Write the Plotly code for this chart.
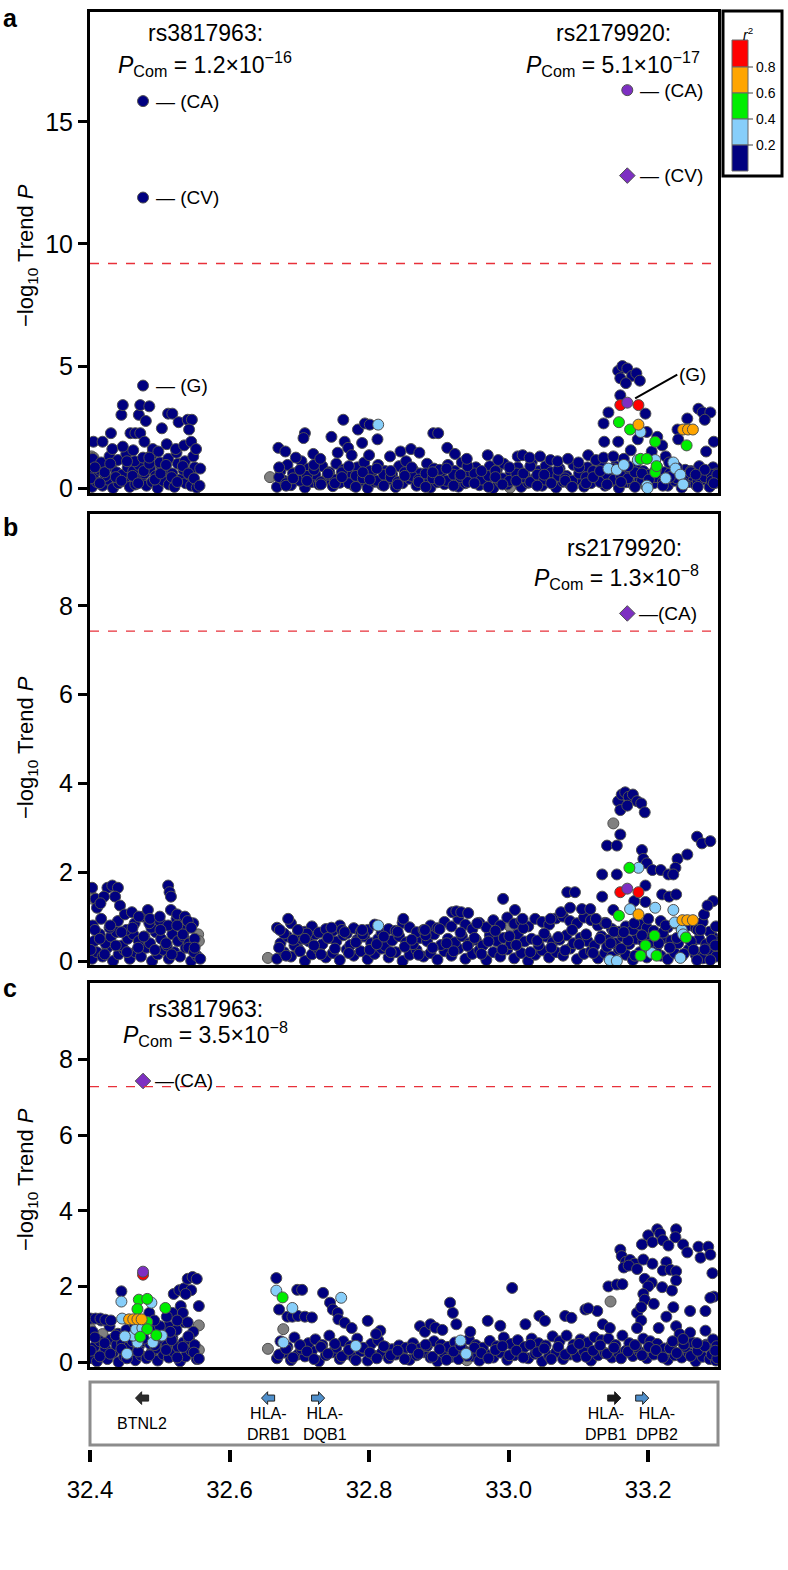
import plotly.graph_objects as go

W, H = 788, 1570
FONT = "Liberation Sans, Arial, sans-serif"

# ---------------- data ----------------
X_RANGE = [32.4, 33.3]
X_TICKS = [32.4, 32.6, 32.8, 33.0, 33.2]
X_TICKTEXT = ["32.4", "32.6", "32.8", "33.0", "33.2"]

# SNP positions (Mb) shared by the three panels
SNP_X_L1 = [32.403, 32.410, 32.418, 32.425, 32.433, 32.441, 32.449, 32.457, 32.465, 32.473,
            32.481, 32.489, 32.497, 32.505, 32.513, 32.521, 32.529, 32.537, 32.545, 32.553]
SNP_X_L2 = [32.406, 32.414, 32.422, 32.430, 32.438, 32.446, 32.454, 32.462, 32.470, 32.478,
            32.486, 32.494, 32.502, 32.510, 32.518, 32.526, 32.534, 32.542, 32.550]
SNP_X_L3 = [32.404, 32.416, 32.428, 32.440, 32.452, 32.464, 32.476, 32.488, 32.500, 32.512,
            32.524, 32.536, 32.548]
SNP_X_L4 = [32.401, 32.407, 32.414, 32.421, 32.429, 32.437, 32.445, 32.453, 32.461, 32.469,
            32.477, 32.485, 32.493, 32.501, 32.509, 32.517, 32.525, 32.533, 32.541, 32.549]
SNP_X_R1 = [32.668, 32.678, 32.688, 32.698, 32.708, 32.718, 32.728, 32.738,
            32.748, 32.758, 32.768, 32.778, 32.788, 32.798, 32.808, 32.818,
            32.828, 32.838, 32.848, 32.858, 32.868, 32.878, 32.888, 32.898,
            32.908, 32.918, 32.928, 32.938, 32.948, 32.958, 32.968, 32.978,
            32.988, 32.998, 33.008, 33.018, 33.028, 33.038, 33.048, 33.058,
            33.068, 33.078, 33.088, 33.098, 33.108, 33.118, 33.128, 33.138,
            33.148, 33.158, 33.168, 33.178, 33.188, 33.198, 33.208, 33.218,
            33.228, 33.238, 33.248, 33.258, 33.268, 33.278, 33.288, 33.297]
SNP_X_R2 = [32.673, 32.683, 32.693, 32.703, 32.713, 32.723, 32.733, 32.743,
            32.753, 32.763, 32.773, 32.783, 32.793, 32.803, 32.813, 32.823,
            32.833, 32.843, 32.853, 32.863, 32.873, 32.883, 32.893, 32.903,
            32.913, 32.923, 32.933, 32.943, 32.953, 32.963, 32.973, 32.983,
            32.993, 33.003, 33.013, 33.023, 33.033, 33.043, 33.053, 33.063,
            33.073, 33.083, 33.093, 33.103, 33.113, 33.123, 33.133, 33.143,
            33.153, 33.163, 33.173, 33.183, 33.193, 33.203, 33.213, 33.223,
            33.233, 33.243, 33.253, 33.263, 33.273, 33.283, 33.293, 33.298]
SNP_X_R3 = [32.671, 32.681, 32.691, 32.701, 32.711, 32.721, 32.731, 32.741,
            32.751, 32.761, 32.771, 32.781, 32.791, 32.801, 32.811, 32.821,
            32.831, 32.841, 32.851, 32.861, 32.871, 32.881, 32.891, 32.901,
            32.911, 32.921, 32.931, 32.941, 32.951, 32.961, 32.971, 32.981,
            32.991, 33.001, 33.011, 33.021, 33.031, 33.041, 33.051, 33.061,
            33.071, 33.081, 33.091, 33.101, 33.111, 33.121, 33.131, 33.141,
            33.151, 33.161, 33.171, 33.181, 33.191, 33.201, 33.211, 33.221,
            33.231, 33.241, 33.251, 33.261, 33.271, 33.281, 33.291, 33.299]

# ---- panel a : -log10 trend P ----
A_L1_Y = [0.05, 0.25, 0.10, 0.35, 0.00, 0.20, 0.30, 0.05, 0.15, 0.40,
          0.10, 0.25, 0.00, 0.30, 0.15, 0.05, 0.35, 0.20, 0.10, 0.02]
A_L2_Y = [0.60, 0.75, 0.50, 0.90, 0.65, 0.55, 0.85, 0.70, 0.95, 0.60,
          0.80, 0.50, 0.90, 0.70, 0.60, 1.00, 0.75, 0.55, 0.85]
A_L3_Y = [1.20, 1.05, 1.30, 1.15, 1.40, 1.10, 1.25, 1.35, 1.05, 1.20, 1.45, 1.10, 1.30]
A_L4_Y = [0.40, 0.85, 0.20, 0.65, 1.00, 0.45, 0.30, 1.10, 0.50, 0.20,
          0.70, 1.00, 0.35, 0.60, 0.95, 0.45, 0.25, 0.90, 0.60, 0.40]
A_R1_Y = [0.05, 0.30, 0.12, 0.40, 0.02, 0.25, 0.15, 0.35,
          0.08, 0.22, 0.42, 0.10, 0.30, 0.00, 0.26, 0.14,
          0.36, 0.04, 0.20, 0.38, 0.10, 0.30, 0.02, 0.24,
          0.16, 0.34, 0.06, 0.20, 0.40, 0.12, 0.28, 0.00,
          0.25, 0.15, 0.35, 0.05, 0.22, 0.40, 0.10, 0.30,
          0.02, 0.26, 0.15, 0.35, 0.06, 0.20, 0.42, 0.10,
          0.30, 0.00, 0.24, 0.15, 0.36, 0.05, 0.20, 0.40,
          0.10, 0.30, 0.02, 0.25, 0.14, 0.35, 0.05, 0.22]
A_R2_Y = [0.70, 0.95, 0.60, 1.10, 0.80, 0.55, 0.90, 0.65,
          1.00, 0.75, 0.50, 0.85, 1.05, 0.60, 0.95, 0.70,
          0.55, 0.90, 1.10, 0.75, 0.60, 1.00, 0.80, 0.50,
          0.95, 0.70, 1.05, 0.60, 0.85, 0.55, 0.90, 0.75,
          1.00, 0.65, 0.85, 0.55, 1.05, 0.70, 0.90, 0.60,
          0.80, 0.50, 0.95, 0.70, 0.85, 0.55, 1.00, 0.65,
          0.90, 0.75, 0.60, 0.80, 0.70, 0.55, 0.85, 0.65,
          0.95, 0.60, 0.75, 0.50, 0.90, 0.70, 0.85, 0.60]
A_R3_Y = [0.45, 0.20, 0.60, 0.30, 0.50, 0.75, 0.25, 0.55,
          0.35, 0.65, 0.20, 0.50, 0.40, 0.70, 0.30, 0.55,
          0.45, 0.25, 0.65, 0.50, 0.35, 0.60, 0.40, 0.75,
          0.30, 0.55, 0.45, 0.25, 0.60, 0.35, 0.50, 0.70,
          0.40, 0.30, 0.60, 0.45, 0.25, 0.55, 0.35, 0.65,
          0.50, 0.40, 0.30, 0.60, 0.45, 0.70, 0.25, 0.55,
          0.35, 0.50, 0.40, 0.65, 0.30, 0.55, 0.45, 0.25,
          0.60, 0.40, 0.50, 0.70, 0.30, 0.45, 0.55, 0.35]
A_R4_Y = [0.85, 0.10, 0.40, 0.75, 0.30, 0.95, 0.15, 0.60,
          0.20, 0.45, 0.90, 0.05, 0.65, 0.35, 0.80, 0.10,
          0.70, 0.15, 0.50, 0.85, 0.25, 0.05, 0.65, 0.30,
          0.80, 0.10, 0.55, 0.90, 0.20, 0.70, 0.05, 0.45,
          0.15, 0.85, 0.30, 0.60, 0.90, 0.10, 0.55, 0.20,
          0.75, 0.30, 0.05, 0.85, 0.20, 0.45, 0.70, 0.15,
          0.80, 0.25, 0.90, 0.05, 0.60, 0.35, 0.75, 0.10,
          0.45, 0.85, 0.20, 0.65, 0.05, 0.75, 0.30, 0.55]
A_NAVY_TOP = [(32.405, 1.9), (32.418, 1.9), (32.430, 2.25), (32.432, 1.6), (32.447, 1.7), (32.445, 3.0),
              (32.447, 3.4), (32.458, 2.25), (32.465, 2.25), (32.472, 2.25), (32.470, 3.0), (32.472, 3.4),
              (32.478, 1.9), (32.480, 2.75), (32.485, 3.35), (32.490, 1.6), (32.503, 2.45), (32.512, 3.05),
              (32.518, 3.05), (32.510, 1.8), (32.523, 1.6), (32.527, 2.7), (32.535, 1.75), (32.540, 2.8),
              (32.546, 2.8), (32.542, 2.4), (32.545, 1.9), (32.552, 1.6), (32.558, 0.8), (32.557, 0.1),
              (32.498, 1.5), (32.462, 1.55), (32.485, 1.25),
              (32.670, 1.65), (32.680, 1.50), (32.708, 2.25), (32.706, 2.05), (32.695, 1.25), (32.720, 1.40),
              (32.730, 1.20), (32.746, 2.10), (32.763, 2.80), (32.765, 1.90), (32.770, 1.65), (32.784, 2.40),
              (32.794, 2.65), (32.801, 2.60), (32.812, 2.00), (32.790, 1.85), (32.775, 1.35), (32.755, 1.45),
              (32.800, 1.35), (32.830, 1.30), (32.845, 1.50), (32.860, 1.60), (32.872, 1.45), (32.892, 2.25),
              (32.899, 2.25), (32.912, 1.65), (32.923, 1.40), (32.940, 1.20), (32.970, 1.35), (32.985, 1.15),
              (33.013, 1.30), (33.020, 1.35), (33.030, 1.25), (33.045, 1.30), (33.060, 1.15), (33.070, 1.10),
              (33.085, 1.20), (33.100, 1.05), (33.114, 1.35), (33.125, 1.15), (33.136, 2.65), (33.137, 1.90),
              (33.136, 1.25), (33.143, 3.10), (33.150, 1.30), (33.157, 1.90), (33.160, 3.80), (33.157, 4.80),
              (33.163, 5.00), (33.170, 4.90), (33.177, 4.60), (33.183, 4.70), (33.188, 4.40), (33.160, 4.50),
              (33.168, 4.30), (33.196, 3.05), (33.198, 2.30), (33.213, 2.10), (33.220, 1.75), (33.205, 1.50),
              (33.225, 1.30), (33.242, 2.40), (33.243, 2.00), (33.256, 2.85), (33.272, 3.25), (33.278, 3.10),
              (33.289, 3.10), (33.281, 2.80), (33.283, 1.50), (33.294, 1.90), (33.268, 0.55), (33.294, 0.20),
              (33.230, 1.05), (33.175, 1.55), (33.165, 1.20), (33.185, 2.00)]
A_GRAY = [(32.402, 1.30), (32.405, 1.25), (32.402, 0.50), (32.658, 0.45), (32.715, 0.35), (33.062, 0.40), (33.002, 0.02)]
A_LBLUE = [(32.813, 2.60), (33.143, 0.80), (33.155, 0.75), (33.189, 2.30), (33.210, 1.15), (33.198, 0.10),
           (33.199, 0.00), (33.236, 1.05), (33.239, 0.80), (33.246, 0.55), (33.250, 0.15), (33.185, 1.15),
           (33.225, 0.40), (33.165, 0.95)]
A_GREEN = [(33.158, 2.70), (33.174, 2.40), (33.210, 1.90), (33.189, 1.20), (33.198, 1.20), (33.210, 0.65),
           (33.212, 0.90), (33.255, 1.75)]
A_ORANGE = [(33.186, 2.60), (33.250, 2.40), (33.257, 2.40), (33.264, 2.40)]
A_RED = [(33.160, 3.40), (33.186, 3.40)]
# rs3817963 (navy) and rs2179920 (purple) in panel a: CA, CV, G
A_RS38_X = 32.476
A_RS38_Y = [15.85, 11.9, 4.2]
A_RS21_X = 33.170
A_RS21_Y = [16.3, 12.8, 3.5]
A_THRESH = 9.2

# ---- panel b ----
B_L1_Y = [0.05, 0.20, 0.10, 0.30, 0.00, 0.15, 0.25, 0.05, 0.20, 0.10,
          0.30, 0.00, 0.15, 0.25, 0.05, 0.20, 0.10, 0.30, 0.00, 0.12]
B_L2_Y = [0.45, 0.60, 0.40, 0.55, 0.65, 0.35, 0.50, 0.60, 0.45, 0.55,
          0.40, 0.65, 0.50, 0.35, 0.60, 0.45, 0.55, 0.40, 0.50]
B_L3_Y = [0.80, 0.95, 0.75, 0.90, 0.70, 0.85, 1.00, 0.75, 0.90, 0.80, 0.95, 0.70, 0.85]
B_L4_Y = [0.25, 0.70, 0.50, 0.15, 0.80, 0.35, 0.65, 0.20, 0.75, 0.30,
          0.55, 0.85, 0.25, 0.70, 0.40, 0.15, 0.80, 0.60, 0.30, 0.20]
B_R1_Y = [0.05, 0.20, 0.10, 0.28, 0.00, 0.15, 0.25, 0.08,
          0.18, 0.02, 0.26, 0.12, 0.22, 0.04, 0.16, 0.28,
          0.08, 0.20, 0.00, 0.14, 0.25, 0.10, 0.18, 0.03,
          0.22, 0.12, 0.28, 0.05, 0.16, 0.24, 0.02, 0.20,
          0.10, 0.26, 0.06, 0.18, 0.00, 0.14, 0.24, 0.08,
          0.20, 0.12, 0.28, 0.04, 0.16, 0.22, 0.06, 0.18,
          0.10, 0.26, 0.14, 0.02, 0.20, 0.08, 0.24, 0.12,
          0.04, 0.18, 0.10, 0.26, 0.14, 0.06, 0.22, 0.10]
B_R2_Y = [0.40, 0.55, 0.35, 0.50, 0.45, 0.60, 0.38, 0.52,
          0.44, 0.58, 0.36, 0.48, 0.55, 0.40, 0.50, 0.34,
          0.46, 0.56, 0.42, 0.38, 0.52, 0.45, 0.60, 0.36,
          0.50, 0.42, 0.56, 0.40, 0.48, 0.35, 0.58, 0.45,
          0.52, 0.38, 0.60, 0.44, 0.50, 0.36, 0.55, 0.42,
          0.48, 0.58, 0.40, 0.52, 0.45, 0.35, 0.56, 0.48,
          0.40, 0.55, 0.38, 0.50, 0.44, 0.58, 0.36, 0.52,
          0.46, 0.40, 0.56, 0.42, 0.50, 0.38, 0.54, 0.44]
B_R3_Y = [0.75, 0.62, 0.85, 0.70, 0.66, 0.78, 0.64, 0.72,
          0.68, 0.80, 0.62, 0.74, 0.66, 0.70, 0.82, 0.64,
          0.72, 0.68, 0.86, 0.76, 0.65, 0.70, 0.80, 0.74,
          0.88, 0.78, 0.95, 0.82, 0.72, 0.86, 0.76, 0.92,
          0.80, 0.98, 0.84, 0.90, 0.78, 0.95, 0.88, 0.82,
          0.96, 1.00, 0.90, 0.85, 0.98, 0.92, 0.80, 0.86,
          0.72, 0.66, 0.78, 0.70, 0.82, 0.75, 0.68, 0.90,
          0.76, 0.85, 0.70, 0.80, 0.74, 0.88, 0.66, 0.78]
B_R4_Y = [0.30, 0.12, 0.48, 0.22, 0.62, 0.35, 0.15, 0.52,
          0.28, 0.70, 0.18, 0.42, 0.60, 0.25, 0.38, 0.55,
          0.20, 0.66, 0.32, 0.48, 0.14, 0.58, 0.30, 0.72,
          0.40, 0.22, 0.64, 0.34, 0.52, 0.16, 0.44, 0.68,
          0.26, 0.56, 0.36, 0.74, 0.20, 0.46, 0.62, 0.30,
          0.54, 0.24, 0.70, 0.38, 0.60, 0.18, 0.50, 0.32,
          0.66, 0.28, 0.46, 0.12, 0.58, 0.36, 0.22, 0.64,
          0.30, 0.52, 0.16, 0.44, 0.70, 0.26, 0.48, 0.34]
B_NAVY_TOP = [(32.403, 1.65), (32.408, 1.40), (32.410, 1.20), (32.425, 1.65), (32.432, 1.70), (32.440, 1.65),
              (32.436, 1.45), (32.443, 1.25), (32.420, 1.45), (32.450, 1.05), (32.460, 1.10), (32.470, 1.00),
              (32.483, 1.15), (32.486, 0.95), (32.500, 1.00), (32.512, 1.70), (32.514, 1.55), (32.516, 1.45),
              (32.516, 1.15), (32.525, 1.05), (32.536, 1.00), (32.540, 0.90), (32.545, 0.75), (32.558, 0.05),
              (32.550, 0.30), (32.415, 1.30),
              (32.672, 0.70), (32.684, 0.95), (32.698, 0.70), (32.708, 0.50), (32.746, 0.75), (32.765, 0.65),
              (32.790, 0.70), (32.849, 0.95), (32.880, 0.70), (32.919, 1.10), (32.925, 1.12), (32.932, 1.10),
              (32.942, 1.08), (32.955, 0.85), (32.992, 1.40), (33.009, 1.15), (33.020, 0.95), (33.060, 0.95),
              (33.075, 1.10), (33.084, 1.55), (33.095, 1.55), (33.088, 1.20), (33.105, 1.17), (33.117, 1.17),
              (33.125, 0.95), (33.134, 1.45), (33.134, 1.95), (33.141, 2.60), (33.155, 2.60), (33.160, 2.85),
              (33.157, 3.60), (33.162, 3.75), (33.167, 3.80), (33.172, 3.70), (33.178, 3.75), (33.184, 3.60),
              (33.190, 3.55), (33.195, 3.35), (33.160, 3.40), (33.170, 3.50), (33.155, 1.95), (33.191, 2.50),
              (33.193, 2.30), (33.198, 2.20), (33.206, 2.05), (33.218, 2.05), (33.229, 1.95), (33.242, 2.30),
              (33.239, 2.10), (33.236, 1.95), (33.256, 2.40), (33.270, 2.80), (33.277, 2.65), (33.289, 2.70),
              (33.293, 1.35), (33.196, 1.70), (33.196, 1.33), (33.146, 0.40), (33.270, 0.02), (33.289, 0.02),
              (33.296, 0.35), (33.265, 0.25), (33.220, 1.50), (33.230, 1.45), (33.240, 1.50), (33.180, 1.35),
              (33.200, 0.95), (33.225, 0.80), (33.215, 0.40), (33.280, 1.05), (33.285, 1.25), (33.275, 0.70),
              (33.150, 1.15), (33.140, 0.85), (33.165, 0.65), (33.180, 0.85)]
B_GRAY = [(33.150, 3.10), (32.555, 0.60), (32.556, 0.45), (32.655, 0.07), (33.002, 0.78), (32.401, 1.50), (32.404, 1.40)]
B_LBLUE = [(33.186, 2.10), (33.174, 1.17), (33.210, 1.20), (33.236, 1.15), (33.238, 0.87), (33.248, 0.70),
           (33.250, 0.60), (33.205, 0.18), (33.145, 0.02), (33.155, 0.00), (33.246, 0.07), (32.813, 0.80)]
B_GREEN = [(33.173, 2.10), (33.158, 1.02), (33.209, 0.57), (33.196, 0.35), (33.189, 0.12), (33.212, 0.12), (33.254, 0.53)]
B_ORANGE = [(33.186, 1.05), (33.249, 0.92), (33.256, 0.92), (33.264, 0.92)]
B_RED = [(33.160, 1.55), (33.186, 1.55)]
B_PURPLE = [(33.170, 1.63)]
B_RS21 = (33.170, 7.83)
B_THRESH = 7.43

# ---- panel c ----
C_L1_Y = [0.10, 0.02, 0.20, 0.08, 0.25, 0.00, 0.15, 0.30, 0.05, 0.18,
          0.10, 0.28, 0.04, 0.20, 0.12, 0.25, 0.02, 0.15, 0.30, 0.08]
C_L2_Y = [0.40, 0.55, 0.35, 0.60, 0.45, 0.50, 0.38, 0.62, 0.42, 0.55,
          0.48, 0.36, 0.58, 0.44, 0.65, 0.40, 0.52, 0.60, 0.45]
C_L3_Y = [0.80, 1.10, 0.95, 0.75, 0.85, 1.00, 0.78, 0.90, 0.70, 0.95, 0.85, 1.05, 0.80]
C_L4_Y = [0.30, 0.65, 0.15, 0.50, 0.22, 0.70, 0.35, 0.10, 0.55, 0.28,
          0.62, 0.18, 0.45, 0.75, 0.32, 0.58, 0.12, 0.40, 0.68, 0.25]
C_R1_Y = [0.10, 0.25, 0.05, 0.20, 0.15, 0.30, 0.02, 0.18,
          0.26, 0.08, 0.22, 0.12, 0.28, 0.04, 0.16, 0.24,
          0.10, 0.20, 0.30, 0.06, 0.18, 0.26, 0.12, 0.02,
          0.22, 0.14, 0.08, 0.28, 0.16, 0.04, 0.20, 0.12,
          0.25, 0.06, 0.18, 0.30, 0.10, 0.22, 0.02, 0.16,
          0.26, 0.08, 0.20, 0.14, 0.28, 0.04, 0.18, 0.24,
          0.12, 0.22, 0.30, 0.16, 0.26, 0.10, 0.20, 0.28,
          0.06, 0.18, 0.12, 0.24, 0.02, 0.14, 0.08, 0.04]
C_R2_Y = [0.55, 0.40, 0.65, 0.35, 0.50, 0.60, 0.45, 0.70,
          0.38, 0.55, 0.42, 0.62, 0.36, 0.48, 0.58, 0.40,
          0.34, 0.44, 0.38, 0.50, 0.36, 0.42, 0.55, 0.46,
          0.40, 0.52, 0.35, 0.60, 0.45, 0.38, 0.56, 0.42,
          0.65, 0.48, 0.58, 0.40, 0.62, 0.50, 0.44, 0.68,
          0.55, 0.70, 0.46, 0.60, 0.52, 0.66, 0.58, 0.62,
          0.45, 0.70, 0.50, 0.40, 0.62, 0.55, 0.48, 0.36,
          0.44, 0.58, 0.40, 0.52, 0.35, 0.46, 0.60, 0.42]
C_R3_Y = [0.20, 0.35, 0.12, 0.45, 0.28, 0.08, 0.40, 0.22,
          0.48, 0.15, 0.32, 0.05, 0.38, 0.25, 0.10, 0.42,
          0.18, 0.30, 0.08, 0.36, 0.22, 0.46, 0.14, 0.34,
          0.06, 0.28, 0.44, 0.16, 0.38, 0.24, 0.10, 0.32,
          0.42, 0.18, 0.30, 0.12, 0.46, 0.26, 0.36, 0.08,
          0.40, 0.20, 0.34, 0.48, 0.14, 0.30, 0.44, 0.22,
          0.38, 0.10, 0.28, 0.45, 0.18, 0.40, 0.32, 0.12,
          0.36, 0.24, 0.46, 0.16, 0.30, 0.42, 0.20, 0.10]
C_NAVY_TOP = [(32.401, 1.15), (32.408, 1.15), (32.415, 1.15), (32.422, 1.12), (32.430, 1.10), (32.445, 1.87),
              (32.520, 1.80), (32.528, 1.90), (32.535, 1.95), (32.540, 2.20), (32.547, 2.25), (32.553, 2.20),
              (32.545, 1.90), (32.537, 1.80), (32.530, 1.48), (32.518, 1.30), (32.533, 1.30), (32.556, 1.48),
              (32.525, 1.10), (32.510, 1.20), (32.500, 0.95), (32.515, 0.80), (32.540, 1.05), (32.556, 0.09),
              (32.485, 1.30), (32.492, 1.10),
              (32.667, 2.22), (32.671, 1.39), (32.697, 1.91), (32.704, 1.91), (32.683, 1.20), (32.690, 1.20),
              (32.698, 1.22), (32.708, 1.20), (32.718, 1.18), (32.734, 1.83), (32.744, 1.57), (32.748, 1.39),
              (32.755, 1.30), (32.756, 1.13), (32.765, 1.04), (32.798, 1.09), (32.816, 0.83), (32.810, 0.74),
              (32.775, 0.90), (32.873, 0.95), (32.880, 0.80), (32.888, 1.00), (32.895, 0.91), (32.905, 0.85),
              (32.916, 1.57), (32.920, 1.30), (32.925, 1.00), (32.945, 0.80), (32.970, 1.09), (32.988, 0.96),
              (33.005, 1.96), (33.024, 1.00), (33.044, 1.22), (33.052, 1.09), (33.081, 1.22), (33.090, 1.17),
              (33.110, 1.39), (33.127, 1.35), (33.114, 1.42), (33.143, 2.00), (33.155, 2.05), (33.163, 2.06),
              (33.135, 1.00), (33.145, 0.90),
              (33.160, 2.97), (33.162, 2.80), (33.168, 2.65), (33.174, 2.70), (33.180, 2.60), (33.165, 2.50),
              (33.172, 2.55), (33.184, 2.46), (33.191, 3.11), (33.193, 2.71), (33.200, 3.35), (33.206, 3.17),
              (33.213, 3.51), (33.217, 3.40), (33.221, 3.22), (33.240, 3.51), (33.239, 3.30), (33.250, 3.11),
              (33.256, 2.90), (33.229, 3.08), (33.272, 3.05), (33.286, 3.05), (33.275, 2.76), (33.289, 2.84),
              (33.292, 2.35), (33.294, 1.73), (33.206, 2.60), (33.226, 2.64), (33.221, 2.42), (33.232, 2.44),
              (33.240, 2.40), (33.240, 2.16), (33.195, 2.20), (33.205, 2.10), (33.200, 2.00), (33.220, 1.98),
              (33.234, 1.89), (33.193, 1.80), (33.195, 1.65), (33.208, 1.54), (33.236, 1.45), (33.184, 1.30),
              (33.190, 1.10), (33.184, 0.90), (33.190, 1.45), (33.226, 1.20), (33.240, 0.95), (33.245, 0.74),
              (33.235, 0.55), (33.260, 1.35), (33.260, 0.78), (33.282, 1.35), (33.282, 0.83), (33.289, 1.70),
              (33.250, 0.61), (33.215, 0.90), (33.270, 0.50), (33.296, 0.30)]
C_GRAY = [(32.418, 0.74), (32.556, 0.97), (32.556, 0.32), (32.655, 0.35), (32.677, 0.87), (33.146, 1.60),
          (32.400, 0.90), (32.940, 0.05)]
C_LBLUE = [(32.445, 1.60), (32.446, 1.15), (32.453, 0.22), (32.488, 1.57), (32.468, 0.52), (32.490, 0.52),
           (32.503, 0.70), (32.462, 0.70), (32.466, 0.87), (32.450, 0.68), (32.475, 0.90), (32.667, 1.89),
           (32.690, 1.43), (32.677, 0.52), (32.760, 1.70), (32.781, 0.43), (32.931, 0.57), (32.939, 0.22)]
C_GREEN = [(32.470, 1.65), (32.482, 1.67), (32.468, 1.40), (32.482, 1.06), (32.482, 0.87), (32.472, 0.67),
           (32.495, 0.71), (32.508, 1.43), (32.676, 1.71)]
C_ORANGE = [(32.456, 1.13), (32.462, 1.13), (32.468, 1.13), (32.474, 1.13)]
C_RED = [(32.476, 2.31)]
C_PURPLE = [(32.476, 2.39)]
C_RS38 = (32.476, 7.43)
C_THRESH = 7.28

# genes
GENE_NAMES = ["BTNL2", "HLA-<br>DRB1", "HLA-<br>DQB1", "HLA-<br>DPB1", "HLA-<br>DPB2"]
GENE_ARROW_X = [32.4746, 32.6552, 32.7269, 33.1513, 33.1914]
GENE_LABEL_X = [32.4746, 32.6552, 32.7369, 33.1398, 33.2129]
GENE_DIR = [-1, -1, 1, 1, 1]
GENE_COLOR = ["#2b2b2b", "#4f8fcb", "#4f8fcb", "#1a1a1a", "#4f8fcb"]

# r2 legend
R2_COLORS = ["#ff0000", "#ffa500", "#00ee00", "#87cefa", "#000080"]
R2_TICKS = ["0.8", "0.6", "0.4", "0.2"]

NAVY, GRAY, LBLUE, GREEN, ORANGE, RED, PURPLE = "#000080", "#808080", "#87cefa", "#00ee00", "#ffa500", "#ff0000", "#7d2fc2"
EDGE = "#505050"
MS = 11

# ---------------- figure ----------------
def pxx(v):
    return v / W


def pyy(v):
    return 1 - v / H


fig = go.Figure()


def add_pts(pts_x, pts_y, color, ax, ay, symbol="circle", size=MS):
    fig.add_trace(go.Scatter(x=list(pts_x), y=list(pts_y), mode="markers", xaxis=ax, yaxis=ay,
                             marker=dict(color=color, size=size, symbol=symbol,
                                         line=dict(color=EDGE, width=1)),
                             showlegend=False, hoverinfo="skip"))


def add_pairs(pairs, color, ax, ay, symbol="circle", size=MS):
    if pairs:
        xs, ys = zip(*pairs)
        add_pts(xs, ys, color, ax, ay, symbol, size)


LX = SNP_X_L1 + SNP_X_L2 + SNP_X_L3 + SNP_X_L4
# panel a
add_pairs(A_GRAY, GRAY, "x", "y")
add_pts(LX + SNP_X_R1 + SNP_X_R2 + SNP_X_R3 + SNP_X_R3,
        A_L1_Y + A_L2_Y + A_L3_Y + A_L4_Y + A_R1_Y + A_R2_Y + A_R3_Y + A_R4_Y, NAVY, "x", "y")
add_pairs(A_NAVY_TOP, NAVY, "x", "y")
add_pairs(A_LBLUE, LBLUE, "x", "y")
add_pairs(A_GREEN, GREEN, "x", "y")
add_pairs(A_ORANGE, ORANGE, "x", "y")
add_pairs(A_RED, RED, "x", "y")
add_pts([A_RS38_X] * 3, A_RS38_Y, NAVY, "x", "y")
add_pts([A_RS21_X, A_RS21_X], [A_RS21_Y[0], A_RS21_Y[2]], PURPLE, "x", "y")
add_pts([A_RS21_X], [A_RS21_Y[1]], PURPLE, "x", "y", symbol="diamond", size=12)

# panel b
add_pairs(B_GRAY, GRAY, "x2", "y2")
add_pts(LX + SNP_X_R1 + SNP_X_R2 + SNP_X_R1 + SNP_X_R3,
        B_L1_Y + B_L2_Y + B_L3_Y + B_L4_Y + B_R1_Y + B_R2_Y + B_R3_Y + B_R4_Y, NAVY, "x2", "y2")
add_pairs(B_NAVY_TOP, NAVY, "x2", "y2")
add_pairs(B_LBLUE, LBLUE, "x2", "y2")
add_pairs(B_GREEN, GREEN, "x2", "y2")
add_pairs(B_ORANGE, ORANGE, "x2", "y2")
add_pairs(B_RED, RED, "x2", "y2")
add_pairs(B_PURPLE, PURPLE, "x2", "y2")
add_pts([B_RS21[0]], [B_RS21[1]], PURPLE, "x2", "y2", symbol="diamond", size=12)

# panel c
add_pairs(C_GRAY, GRAY, "x3", "y3")
add_pts(LX + SNP_X_R1 + SNP_X_R2 + SNP_X_R3,
        C_L1_Y + C_L2_Y + C_L3_Y + C_L4_Y + C_R1_Y + C_R2_Y + C_R3_Y, NAVY, "x3", "y3")
add_pairs(C_NAVY_TOP, NAVY, "x3", "y3")
add_pairs(C_LBLUE, LBLUE, "x3", "y3")
add_pairs(C_GREEN, GREEN, "x3", "y3")
add_pairs(C_ORANGE, ORANGE, "x3", "y3")
add_pairs(C_RED, RED, "x3", "y3")
add_pairs(C_PURPLE, PURPLE, "x3", "y3")
add_pts([C_RS38[0]], [C_RS38[1]], PURPLE, "x3", "y3", symbol="diamond", size=12)

# gene arrows (block arrows built around the gene positions)
HW, HL, HH, SH, YC = 0.0094, 0.0088, 0.095, 0.045, 0.76
for gx, gd, gc in zip(GENE_ARROW_X, GENE_DIR, GENE_COLOR):
    tip = gx + gd * HW
    base = tip - gd * HL
    tail = gx - gd * HW
    xs = [tip, base, base, tail, tail, base, base, tip]
    ys = [YC, YC + HH, YC + SH, YC + SH, YC - SH, YC - SH, YC - HH, YC]
    fig.add_trace(go.Scatter(x=xs, y=ys, mode="lines", fill="toself", fillcolor=gc,
                             line=dict(color="#222222", width=1), xaxis="x4", yaxis="y4",
                             showlegend=False, hoverinfo="skip"))

XD = [pxx(90), pxx(718)]
frame = dict(showline=True, mirror=True, linecolor="black", linewidth=3, showgrid=False, zeroline=False,
             automargin=False)
yax = dict(ticks="outside", ticklen=9, tickwidth=3, tickcolor="black",
           tickfont=dict(size=25, family=FONT, color="black"), **frame)
xax = dict(range=X_RANGE, domain=XD, showticklabels=False, ticks="", **frame)

fig.update_layout(
    template="none",
    width=W, height=H, margin=dict(l=0, r=0, t=0, b=0, pad=0), autosize=False,
    plot_bgcolor="white", paper_bgcolor="white",
    font=dict(family=FONT, color="black"),
    xaxis=dict(anchor="y", **xax),
    xaxis2=dict(anchor="y2", **xax),
    xaxis3=dict(anchor="y3", **xax),
    yaxis=dict(domain=[pyy(493), pyy(12)], range=[-0.2, 19.5], tickvals=[0, 5, 10, 15], anchor="x", **yax),
    yaxis2=dict(domain=[pyy(965), pyy(514)], range=[-0.09, 10.07], tickvals=[0, 2, 4, 6, 8], anchor="x2", **yax),
    yaxis3=dict(domain=[pyy(1367), pyy(983)], range=[-0.13, 10.02], tickvals=[0, 2, 4, 6, 8], anchor="x3", **yax),
    xaxis4=dict(anchor="y4", domain=XD, range=X_RANGE, tickvals=X_TICKS, ticktext=X_TICKTEXT,
                ticks="outside", ticklen=12, tickwidth=4, tickcolor="black", showline=False,
                showgrid=False, zeroline=False, ticklabelstandoff=7, automargin=False,
                tickfont=dict(size=24, family=FONT, color="black")),
    yaxis4=dict(anchor="x4", domain=[pyy(1449), pyy(1382)], range=[0, 1], visible=False, automargin=False),
)

shapes = []
# threshold lines
for yref, thr in (("y", A_THRESH), ("y2", B_THRESH), ("y3", C_THRESH)):
    shapes.append(dict(type="line", xref=yref.replace("y", "x") + " domain", yref=yref,
                       x0=0, x1=1, y0=thr, y1=thr, line=dict(color="#e8303a", width=1.3, dash="dash")))
# gene box
shapes.append(dict(type="rect", xref="paper", yref="paper", x0=pxx(90), x1=pxx(718), y0=pyy(1445), y1=pyy(1382),
                   line=dict(color="#8c8c8c", width=3)))
# r2 legend box
shapes.append(dict(type="rect", xref="paper", yref="paper", x0=pxx(723), x1=pxx(782), y0=pyy(176), y1=pyy(11),
                   line=dict(color="black", width=3)))
tops = [40, 67, 93, 119, 145, 171]
for i, c in enumerate(R2_COLORS):
    shapes.append(dict(type="rect", xref="paper", yref="paper", x0=pxx(732), x1=pxx(748),
                       y0=pyy(tops[i + 1]), y1=pyy(tops[i]), fillcolor=c, line=dict(color="#666666", width=1)))
for i in range(4):
    yy = tops[i + 1]
    shapes.append(dict(type="line", xref="paper", yref="paper", x0=pxx(748), x1=pxx(753), y0=pyy(yy), y1=pyy(yy),
                       line=dict(color="#444444", width=1)))

ann = []
for i, t in enumerate(R2_TICKS):
    ann.append(dict(xref="paper", yref="paper", x=pxx(754), y=pyy(tops[i + 1]), text=t, showarrow=False,
                    xanchor="left", yanchor="middle", font=dict(size=14)))
ann.append(dict(xref="paper", yref="paper", x=pxx(755), y=pyy(23), text="<i>r</i><sup>2</sup>", showarrow=False,
                font=dict(size=14)))

# panel letters
for letter, yy in (("a", 18), ("b", 527), ("c", 988)):
    ann.append(dict(xref="paper", yref="paper", x=pxx(1), y=pyy(yy), text="<b>%s</b>" % letter, showarrow=False,
                    xanchor="left", yanchor="middle", font=dict(size=25)))
# y titles
for yy in (256, 748, 1180):
    ann.append(dict(xref="paper", yref="paper", x=pxx(27), y=pyy(yy), text="\u2212log<sub>10</sub> Trend <i>P</i>",
                    textangle=-90, showarrow=False, xanchor="center", yanchor="middle", font=dict(size=22)))


def txt(xr, yr, x, y, s, size=23, xanchor="center"):
    ann.append(dict(xref=xr, yref=yr, x=x, y=y, text=s, showarrow=False, xanchor=xanchor, yanchor="middle",
                    font=dict(size=size)))


txt("x", "y", 32.565, 18.65, "rs3817963:")
txt("x", "y", 32.565, 17.35, "<i>P</i><sub>Com</sub> = 1.2\u00d710<sup>\u221216</sup>")
txt("x", "y", 33.150, 18.65, "rs2179920:")
txt("x", "y", 33.150, 17.35, "<i>P</i><sub>Com</sub> = 5.1\u00d710<sup>\u221217</sup>")
for yv, lab in zip(A_RS38_Y, ["(CA)", "(CV)", "(G)"]):
    ann.append(dict(xref="x", yref="y", x=A_RS38_X, y=yv, xshift=11, text="\u2014 " + lab, showarrow=False,
                    xanchor="left", yanchor="middle", font=dict(size=19)))
for yv, lab in zip(A_RS21_Y[:2], ["(CA)", "(CV)"]):
    ann.append(dict(xref="x", yref="y", x=A_RS21_X, y=yv, xshift=11, text="\u2014 " + lab, showarrow=False,
                    xanchor="left", yanchor="middle", font=dict(size=19)))
ann.append(dict(xref="x", yref="y", x=A_RS21_X, y=A_RS21_Y[2], text="(G)", showarrow=True, arrowhead=0,
                arrowwidth=2, arrowcolor="black", ax=50, ay=-28, standoff=9, font=dict(size=19),
                xanchor="left"))

txt("x2", "y2", 33.166, 9.3, "rs2179920:")
txt("x2", "y2", 33.154, 8.66, "<i>P</i><sub>Com</sub> = 1.3\u00d710<sup>\u22128</sup>")
ann.append(dict(xref="x2", yref="y2", x=B_RS21[0], y=B_RS21[1], xshift=10, text="\u2014(CA)", showarrow=False,
                xanchor="left", yanchor="middle", font=dict(size=19)))

txt("x3", "y3", 32.565, 9.32, "rs3817963:")
txt("x3", "y3", 32.565, 8.66, "<i>P</i><sub>Com</sub> = 3.5\u00d710<sup>\u22128</sup>")
ann.append(dict(xref="x3", yref="y3", x=C_RS38[0], y=C_RS38[1], xshift=10, text="\u2014(CA)", showarrow=False,
                xanchor="left", yanchor="middle", font=dict(size=19)))

# gene labels
for gx, name in zip(GENE_LABEL_X, GENE_NAMES):
    ann.append(dict(xref="x4", yref="y4", x=gx, y=0.38, text=name, showarrow=False, xanchor="center",
                    yanchor="middle", font=dict(size=16)))

fig.update_layout(shapes=shapes, annotations=ann)
fig.write_html("out.html", config={"responsive": False, "displayModeBar": False},
               post_script="document.body.style.margin='0';document.body.style.overflow='hidden';")
